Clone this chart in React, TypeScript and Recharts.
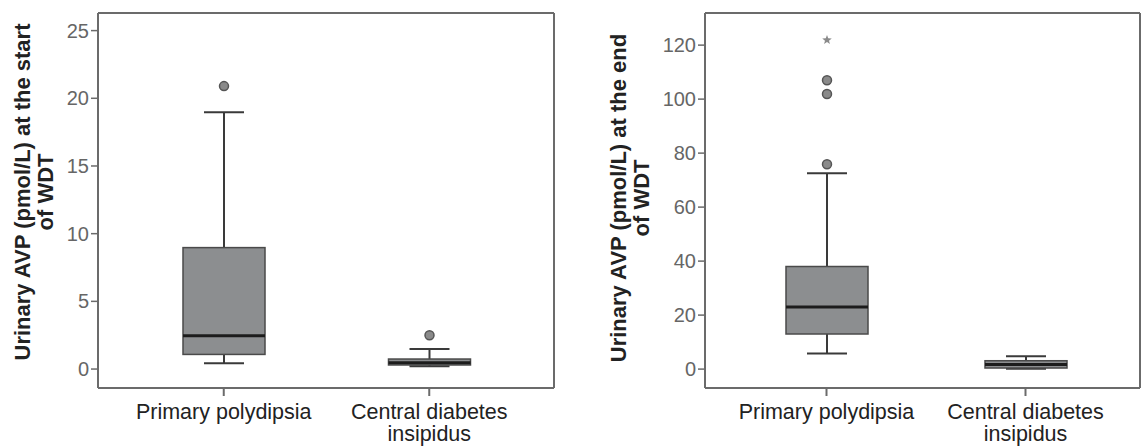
import {Bar, ComposedChart, XAxis, YAxis} from 'recharts'

const FONT = '"Liberation Sans", Arial, sans-serif'

const GROUPS = ['Primary polydipsia', 'Central diabetes insipidus']
const GROUP_LINES: Record<string, string[]> = {
  'Primary polydipsia': ['Primary polydipsia'],
  'Central diabetes insipidus': ['Central diabetes', 'insipidus'],
}

// urinary AVP at the start of WDT
const START_LOW = [0.42, 0.2]
const START_Q1 = [1.08, 0.3]
const START_MEDIAN = [2.46, 0.47]
const START_Q3 = [8.97, 0.74]
const START_HIGH = [18.97, 1.48]
const START_OUTLIERS = [[20.9], [2.5]]
const START_EXTREMES: number[][] = [[], []]
const START_TICKS = [0, 5, 10, 15, 20, 25]

// urinary AVP at the end of WDT
const END_LOW = [5.8, 0.1]
const END_Q1 = [13, 0.4]
const END_MEDIAN = [23, 1.7]
const END_Q3 = [38, 3.1]
const END_HIGH = [72.5, 4.8]
const END_OUTLIERS = [[75.9, 101.9, 107], []]
const END_EXTREMES = [[121.9], []]
const END_TICKS = [0, 20, 40, 60, 80, 100, 120]

const FRAME = '#6b6b6b'

// star marker path for extreme values
function starPath(cx: number, cy: number, r: number) {
  const pts: string[] = []
  for (let i = 0; i < 10; i++) {
    const a = -Math.PI / 2 + (i * Math.PI) / 5
    const rr = i % 2 === 0 ? r : r * 0.42
    pts.push(`${cx + rr * Math.cos(a)},${cy + rr * Math.sin(a)}`)
  }
  return `M${pts.join('L')}Z`
}

function BoxShape(props: any) {
  const {x, y, width, height, payload} = props
  const top = Math.min(y, y + height)
  const h = Math.abs(height)
  const span = payload.high - payload.low || 1
  // same linear map as the bar's own y scale
  const py = (v: number) => top + ((payload.high - v) / span) * h
  const cx = x + width / 2
  const cap = 20
  const line = {stroke: '#3a3a3a', strokeWidth: 2}
  return (
    <g>
      <line x1={cx} x2={cx} y1={py(payload.high)} y2={py(payload.q3)} {...line} />
      <line x1={cx} x2={cx} y1={py(payload.q1)} y2={py(payload.low)} {...line} />
      <line x1={cx - cap} x2={cx + cap} y1={py(payload.high)} y2={py(payload.high)} {...line} />
      <line x1={cx - cap} x2={cx + cap} y1={py(payload.low)} y2={py(payload.low)} {...line} />
      <rect x={x} y={py(payload.q3)} width={width} height={py(payload.q1) - py(payload.q3)}
        fill="#8c8e90" stroke="#4a4a4a" strokeWidth={1.5} />
      <line x1={x} x2={x + width} y1={py(payload.median)} y2={py(payload.median)} stroke="#1c1c1c" strokeWidth={3} />
      {payload.outliers.map((v: number, i: number) => (
        <circle key={`o${i}`} cx={cx} cy={py(v)} r={4.5} fill="#8a8a8a" stroke="#555" strokeWidth={1.5} />
      ))}
      {payload.extremes.map((v: number, i: number) => (
        <path key={`e${i}`} d={starPath(cx, py(v), 5)} fill="#8a8a8a" />
      ))}
    </g>
  )
}

function CategoryTick({x, y, payload}: any) {
  const lines = GROUP_LINES[payload.value] ?? [payload.value]
  return (
    <g>
      {lines.map((l, i) => (
        <text key={l} x={x} y={y + 21 + i * 22} textAnchor="middle" fill="#222" fontSize={21.5} fontFamily={FONT}>{l}</text>
      ))}
    </g>
  )
}

type PanelProps = {
  width: number
  yAxisWidth: number
  rightMargin: number
  padding: {left: number; right: number}
  domain: [number, number]
  ticks: number[]
  low: number[]; q1: number[]; median: number[]; q3: number[]; high: number[]
  outliers: number[][]
  extremes: number[][]
  title: string[]
  labelOffsets: [number, number]
  labelCenter: number
}

function BoxPanel(p: PanelProps) {
  const rows = GROUPS.map((g, i) => ({
    group: g, range: [p.low[i], p.high[i]],
    low: p.low[i], q1: p.q1[i], median: p.median[i], q3: p.q3[i], high: p.high[i],
    outliers: p.outliers[i], extremes: p.extremes[i],
  }))

  const yLabel = ({viewBox}: any) => {
    const right = viewBox.x + viewBox.width
    const cy = p.labelCenter
    return (
      <g fontFamily={FONT} fontWeight="bold" fontSize={22} fill="#222">
        {p.title.map((t, i) => {
          const bx = right - p.labelOffsets[i]
          return (
            <text key={t} x={bx} y={cy} textAnchor="middle" transform={`rotate(-90, ${bx}, ${cy})`}>{t}</text>
          )
        })}
      </g>
    )
  }

  return (
    <ComposedChart width={p.width} height={447} data={rows}
      margin={{top: 12, right: p.rightMargin - 1, bottom: 0, left: 0}}>
      <XAxis dataKey="group" type="category" height={59} padding={p.padding}
        interval={0} tickSize={8} tick={<CategoryTick />} tickLine={{stroke: FRAME, strokeWidth: 2}}
        axisLine={{stroke: FRAME, strokeWidth: 2}} />
      <XAxis xAxisId="top" orientation="top" dataKey="group" type="category"
        height={1} padding={p.padding} tick={false} tickLine={false} axisLine={{stroke: FRAME, strokeWidth: 2}} />
      <YAxis type="number" domain={p.domain} ticks={p.ticks} allowDataOverflow width={p.yAxisWidth}
        tickSize={7} tickMargin={2} tick={{fontSize: 20, fill: '#666', fontFamily: FONT}}
        tickLine={{stroke: FRAME, strokeWidth: 1.5}} axisLine={{stroke: FRAME, strokeWidth: 2}}
        label={{content: yLabel}} />
      <YAxis yAxisId="right" orientation="right" type="number" domain={p.domain} allowDataOverflow width={1}
        tick={false} tickLine={false} axisLine={{stroke: FRAME, strokeWidth: 2}} />
      <Bar dataKey="range" barSize={82} shape={BoxShape} isAnimationActive={false} />
    </ComposedChart>
  )
}

export default function App() {
  return (
    <div style={{position: 'absolute', left: 0, top: 0, width: 1142, height: 447, overflow: 'hidden', background: '#fff'}}>
      <div style={{position: 'absolute', left: 0, top: 0}}>
        <BoxPanel width={570} yAxisWidth={98} rightMargin={16} padding={{left: 23, right: 22}}
          domain={[-1.4, 26.3]} ticks={START_TICKS}
          low={START_LOW} q1={START_Q1} median={START_MEDIAN} q3={START_Q3} high={START_HIGH}
          outliers={START_OUTLIERS} extremes={START_EXTREMES}
          title={['Urinary AVP (pmol/L) at the start', 'of WDT']} labelOffsets={[68.5, 45.5]} labelCenter={192} />
      </div>
      <div style={{position: 'absolute', left: 570, top: 0}}>
        <BoxPanel width={572} yAxisWidth={135} rightMargin={2} padding={{left: 22, right: 15}}
          domain={[-7, 131.9]} ticks={END_TICKS}
          low={END_LOW} q1={END_Q1} median={END_MEDIAN} q3={END_Q3} high={END_HIGH}
          outliers={END_OUTLIERS} extremes={END_EXTREMES}
          title={['Urinary AVP (pmol/L) at the end', 'of WDT']} labelOffsets={[79, 56]} labelCenter={198} />
      </div>
    </div>
  )
}
